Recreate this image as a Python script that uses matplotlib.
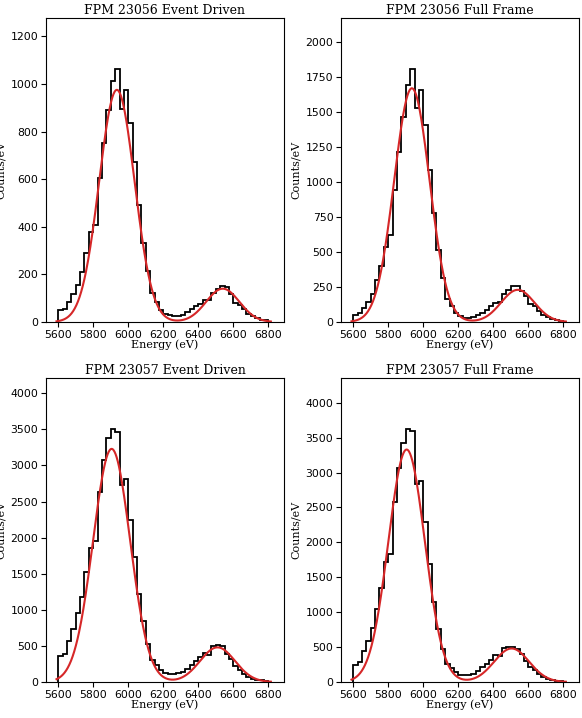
import numpy as np
import matplotlib
matplotlib.use("Agg")
import matplotlib.pyplot as plt

bin_edges = np.arange(5600, 6801, 25)

titles = ["FPM 23056 Event Driven", "FPM 23056 Full Frame",
          "FPM 23057 Event Driven", "FPM 23057 Full Frame"]

counts_56_ed = [49, 56, 86, 117, 157, 212, 289, 380, 408, 606, 750, 892, 1011, 1064, 895, 976,
                835, 672, 493, 332, 216, 121, 84, 49, 35, 28, 25, 25, 31, 42, 56, 67,
                77, 91, 91, 123, 137, 150, 146, 118, 81, 72, 53, 35, 24, 17, 10, 7]
counts_56_ff = [52, 64, 100, 142, 199, 299, 401, 538, 621, 942, 1217, 1468, 1691, 1810, 1530, 1656,
                1404, 1084, 778, 517, 315, 161, 114, 64, 43, 28, 28, 33, 47, 66, 88, 114,
                138, 142, 202, 232, 254, 256, 225, 183, 126, 114, 76, 52, 33, 24, 12, 7]
counts_57_ed = [359, 391, 570, 736, 952, 1173, 1518, 1863, 1955, 2636, 3082, 3386, 3510, 3460, 2728, 2806,
                2245, 1734, 1219, 842, 529, 299, 239, 170, 129, 110, 110, 129, 138, 184, 230, 285,
                340, 400, 377, 492, 506, 492, 386, 313, 221, 161, 115, 69, 46, 32, 23, 14]
counts_57_ff = [247, 280, 437, 589, 779, 1045, 1349, 1720, 1838, 2575, 3059, 3430, 3629, 3596, 2835, 2883,
                2299, 1696, 1150, 760, 470, 257, 200, 138, 105, 95, 105, 119, 162, 209, 261, 318,
                380, 375, 494, 508, 508, 475, 399, 304, 209, 176, 119, 67, 43, 29, 19, 10]

# fitted double-Gaussian parameters: (amp1, mu1, sig1, amp2, mu2, sig2)
fit_params = [(975, 5935, 101, 140, 6540, 95),
              (1670, 5935, 101, 230, 6540, 95),
              (3230, 5905, 106, 480, 6510, 100),
              (3330, 5905, 104, 480, 6505, 100)]

all_counts = [counts_56_ed, counts_56_ff, counts_57_ed, counts_57_ff]
yticks = [np.arange(0, 1201, 200), np.arange(0, 2001, 250),
          np.arange(0, 4001, 500), np.arange(0, 4001, 500)]

fig = plt.figure(figsize=(5.82, 7.18), dpi=100)
pos = [(46, 18), (341, 18), (46, 378), (341, 378)]
W, H = 238, 304
for i in range(4):
    x0, y0 = pos[i]
    ax = fig.add_axes([x0 / 582, 1 - (y0 + H) / 718, W / 582, H / 718])
    c = np.array(all_counts[i])
    ax.stairs(c, bin_edges, color="black", lw=1.3)
    a1, m1, s1, a2, m2, s2 = fit_params[i]
    xf = np.linspace(5590, 6815, 400)
    yf = a1 * np.exp(-0.5 * ((xf - m1) / s1) ** 2) + a2 * np.exp(-0.5 * ((xf - m2) / s2) ** 2)
    ax.plot(xf, yf, color="#d62728", lw=1.5)
    ax.set_xlim(5530, 6890)
    ax.set_ylim(0, 1.2 * c.max())
    ax.set_xticks(np.arange(5600, 6801, 200))
    ax.set_yticks(yticks[i])
    ax.tick_params(labelsize=7.8, pad=2)
    ax.set_title(titles[i], family="DejaVu Serif", fontsize=9, pad=3)
    ax.set_xlabel("Energy (eV)", family="DejaVu Serif", fontsize=8, labelpad=0)
    ax.set_ylabel("Counts/eV", family="DejaVu Serif", fontsize=8, labelpad=3)

fig.savefig("out.png", dpi=100)
